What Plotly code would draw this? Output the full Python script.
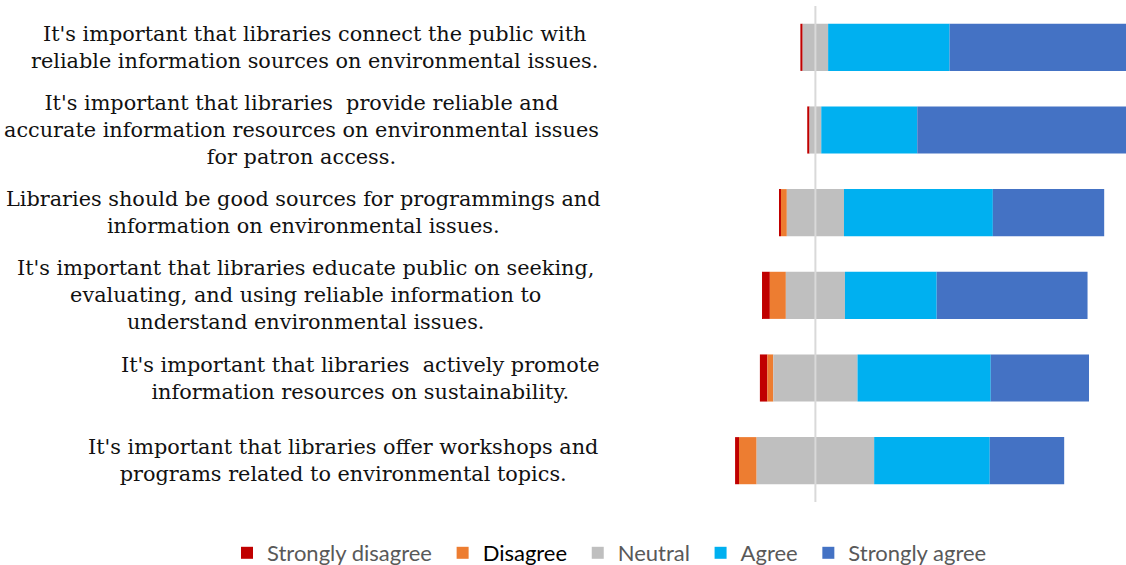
import plotly.graph_objects as go
import numpy as np

statements = [
    "It's important that libraries connect the public with<br>reliable information sources on environmental issues.",
    "It's important that libraries  provide reliable and<br>accurate information resources on environmental issues<br>for patron access.",
    "Libraries should be good sources for programmings and<br>information on environmental issues.",
    "It's important that libraries educate public on seeking,<br>evaluating, and using reliable information to<br>understand environmental issues.",
    "It's important that libraries  actively promote<br>information resources on sustainability.",
    "It's important that libraries offer workshops and<br>programs related to environmental topics.",
]
keys = ["Q1", "Q2", "Q3", "Q4", "Q5", "Q6"]

series_names = ["Strongly disagree", "Disagree", "Neutral", "Agree", "Strongly agree"]
strongly_disagree = [0.7, 0.7, 0.6, 2.4, 2.3, 1.2]
disagree = [0.0, 0.0, 1.8, 4.9, 1.8, 5.4]
neutral = [7.8, 3.6, 17.5, 18.1, 25.8, 36.0]
agree = [37.2, 29.4, 45.6, 28.1, 40.8, 35.4]
strongly_agree = [54.3, 66.3, 34.1, 46.2, 30.1, 22.8]

colors = ["#C00000", "#ED7D31", "#BFBFBF", "#00B0F0", "#4472C4"]
pad = "\u00a0"
legend_labels = [
    "Strongly disagree" + pad,
    "<span style='color:#000000'>Disagree</span>" + pad,
    "Neutral" + pad,
    "Agree" + pad,
    "Strongly agree",
]

W, H = 1126, 565
L, R, T, B = 620, 0, 6, 63
pw = W - L - R
ph = H - T - B
zero_px = 815.4
px_per_unit = 3.265
x_lo = -(zero_px - L) / px_per_unit
x_hi = (W - R - zero_px) / px_per_unit

vals = np.array([strongly_disagree, disagree, neutral, agree, strongly_agree])
start = -(vals[0] + vals[1] + vals[2] / 2.0)
bases = start + np.vstack([np.zeros(vals.shape[1]), np.cumsum(vals, axis=0)[:-1]])

fig = go.Figure()
for i in range(5):
    fig.add_trace(go.Bar(
        y=keys, x=vals[i], base=bases[i], orientation="h",
        name=legend_labels[i], marker=dict(color=colors[i], line=dict(width=0)),
        hovertemplate=series_names[i] + ": %{x}<extra></extra>",
    ))

# label block centers (px)
label_centers = [314, 301, 303, 305, 360, 343]
for k, txt, cx in zip(keys, statements, label_centers):
    fig.add_annotation(
        x=(cx - L) / pw, xref="paper", y=k, yref="y",
        text=txt, showarrow=False, xanchor="center", yanchor="middle", align="center",
        font=dict(family="DejaVu Serif", size=20.8, color="#111111"),
    )

fig.add_shape(type="line", x0=0, x1=0, xref="x", y0=0, y1=1.0, yref="paper",
              line=dict(color="#D9D9D9", width=2), layer="above")

fig.update_layout(
    width=W, height=H,
    margin=dict(l=L, r=R, t=T, b=B, autoexpand=False),
    paper_bgcolor="white", plot_bgcolor="white",
    barmode="overlay", bargap=0.43,
    showlegend=True,
    legend=dict(orientation="h", xref="paper", x=(227 - L) / pw, xanchor="left",
                yref="paper", y=(H - B - 553) / ph, yanchor="middle",
                font=dict(family="Lato", size=22, color="#595959"),
                traceorder="normal"),
    xaxis=dict(range=[x_lo, x_hi], showgrid=False, zeroline=False, showticklabels=False,
               showline=False, fixedrange=True),
    yaxis=dict(autorange="reversed", showgrid=False, zeroline=False, showticklabels=False,
               showline=False, fixedrange=True),
)

fig.write_html("out.html", config={"displayModeBar": False},
               post_script="document.body.style.margin='0px';")
